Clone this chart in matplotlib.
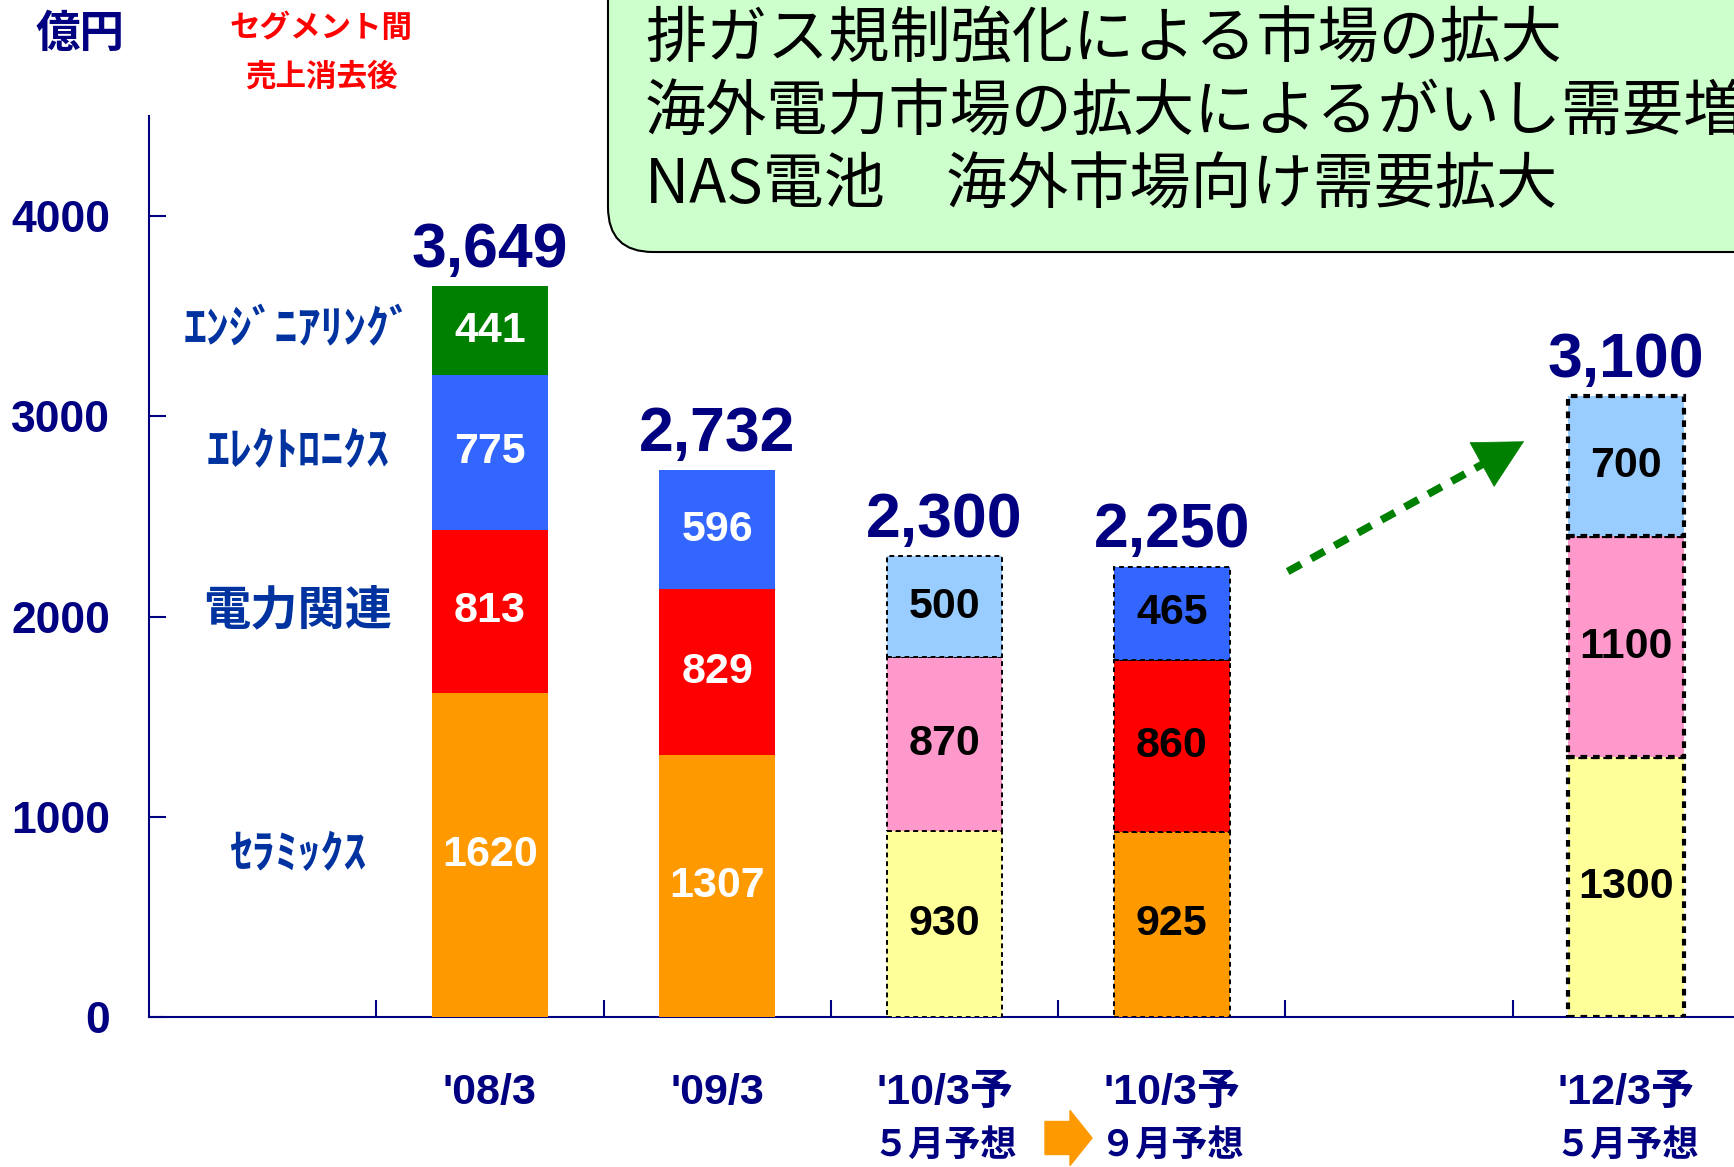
import numpy as np
import matplotlib
matplotlib.use('Agg')
import matplotlib.pyplot as plt
from matplotlib.patches import FancyBboxPatch, FancyArrow
from matplotlib.transforms import IdentityTransform

plt.rcParams['font.family'] = ['Liberation Sans', 'Noto Sans CJK JP']
JP = ['Noto Sans CJK JP', 'Liberation Sans']

# Chart data (億円)
periods = ["'08/3", "'09/3", "'10/3予", "'10/3予", "'12/3予"]
period_notes = ["", "", "５月予想", "９月予想", "５月予想"]
segments = ["ｾﾗﾐｯｸｽ", "電力関連", "ｴﾚｸﾄﾛﾆｸｽ", "ｴﾝｼﾞﾆｱﾘﾝｸﾞ"]
ceramics = [1620, 1307, 930, 925, 1300]
power = [813, 829, 870, 860, 1100]
electronics = [775, 596, 500, 465, 700]
engineering = [441, 0, 0, 0, 0]
totals = [3649, 2732, 2300, 2250, 3100]
yticks = [0, 1000, 2000, 3000, 4000]
notes = ["排ガス規制強化による市場の拡大",
         "海外電力市場の拡大によるがいし需要増",
         "NAS電池　海外市場向け需要拡大"]

# Styling
NAVY = '#000080'
SEGBLUE = '#0033A0'
solid_colors = ['#FF9900', '#FF0000', '#3366FF', '#008000']
light_colors = ['#FFFF99', '#FF99CC', '#99CCFF', '#008000']
slots = [1, 2, 3, 4, 6]
fill_kind = ['solid', 'solid', 'light', 'solid', 'light']
edge_kind = [None, None, 'thin', 'thin', 'thick']
text_color = ['white', 'white', 'black', 'black', 'black']

W, H = 1734, 1167
fig = plt.figure(figsize=(W / 100, H / 100), dpi=100, facecolor='white')
ax = fig.add_axes([149 / W, 150 / H, (1740 - 149) / W, 901 / H])

stack = [ceramics, power, electronics, engineering]
for i, x in enumerate(slots):
    bottom = 0
    for s, vals in enumerate(stack):
        v = vals[i]
        if v <= 0:
            continue
        col = solid_colors[s] if fill_kind[i] == 'solid' else light_colors[s]
        kw = dict(edgecolor='none', linewidth=0)
        if edge_kind[i] == 'thin':
            kw = dict(edgecolor='black', linewidth=1.4, linestyle=(0, (2.5, 2)))
        elif edge_kind[i] == 'thick':
            kw = dict(edgecolor='black', linewidth=3, linestyle=(0, (1.6, 1.4)))
        ax.bar(x, v, width=0.51, bottom=bottom, color=col, zorder=3, **kw)
        ax.text(x, bottom + v / 2, str(v), ha='center', va='center',
                fontsize=31, fontweight='bold', color=text_color[i], zorder=4)
        bottom += v
    ax.annotate(f'{totals[i]:,}', xy=(x, totals[i]), xytext=(0, 14),
                textcoords='offset points', ha='center', va='baseline',
                fontsize=45, fontweight='bold', color=NAVY)
    ax.text(x, -0.084, periods[i], transform=ax.get_xaxis_transform(),
            ha='center', va='center', fontsize=31, fontweight='bold', color=NAVY)
    if period_notes[i]:
        ax.text(x, -0.142, period_notes[i], transform=ax.get_xaxis_transform(),
                ha='center', va='center', fontsize=26, fontweight='bold',
                color=NAVY, family=JP)

# segment names beside the first bar
bottom = 0
for s, vals in enumerate(stack):
    ax.text(0.155, bottom + vals[0] / 2, segments[s], ha='center', va='center',
            fontsize=34 if s == 1 else 33, fontweight='bold', color=SEGBLUE,
            family=JP)
    bottom += vals[0]

# growth arrow: dotted shaft + solid head
tail = np.array([4.51, 2225])
tip = np.array([5.55, 2875])
shaft_end = tail + 0.84 * (tip - tail)
head_base = tail + 0.80 * (tip - tail)
ax.plot([tail[0], shaft_end[0]], [tail[1], shaft_end[1]], color='#008000',
        lw=5.5, dashes=(2.0, 1.5), solid_capstyle='butt', dash_capstyle='butt')
ax.annotate('', xy=tuple(tip), xytext=tuple(head_base),
            arrowprops=dict(arrowstyle='-|>,head_length=0.85,head_width=0.45',
                            color='#008000', lw=0.5, mutation_scale=40,
                            shrinkA=0, shrinkB=0))

ax.set_xlim(-0.5, 6.5)
ax.set_ylim(0, 4500)
ax.set_xticks(np.arange(0.5, 7, 1))
ax.set_xticklabels([])
ax.set_yticks(yticks)
ax.set_yticklabels([str(t) for t in yticks])
ax.tick_params(axis='x', direction='in', length=12, width=1.5, color=NAVY)
ax.tick_params(axis='y', direction='in', length=12, width=1.5, color=NAVY,
               labelsize=32, labelcolor=NAVY, pad=28)
for lab in ax.get_yticklabels():
    lab.set_fontweight('bold')
for side in ['top', 'right']:
    ax.spines[side].set_visible(False)
for side in ['left', 'bottom']:
    ax.spines[side].set_color(NAVY)
    ax.spines[side].set_linewidth(1.5)

# header texts
fig.text(80 / W, 1 - 34 / H, '億円', ha='center', va='center', fontsize=32,
         fontweight='bold', color=NAVY, family=JP)
fig.text(321 / W, 1 - 28 / H, 'セグメント間', ha='center', va='center',
         fontsize=22, fontweight='bold', color='#FF0000', family=JP)
fig.text(321 / W, 1 - 77 / H, '売上消去後', ha='center', va='center',
         fontsize=22, fontweight='bold', color='#FF0000', family=JP)

# note box (pixel coordinates)
box = FancyBboxPatch((608, H - 252), 1300, 400,
                     boxstyle='round,pad=0,rounding_size=45',
                     transform=IdentityTransform(), facecolor='#CCFFCC',
                     edgecolor='black', linewidth=1.5)
fig.add_artist(box)
for k, line in enumerate(notes):
    fig.text(645 / W, 1 - (40 + 73 * k) / H, line, ha='left', va='center',
             fontsize=44, color='black', family=JP)

# orange arrow between forecasts
arrow = FancyArrow(1045, H - 1138, 25, 0, width=33, head_width=55,
                   head_length=22, length_includes_head=False,
                   transform=IdentityTransform(), color='#FF9900')
fig.add_artist(arrow)

fig.savefig('out.png', dpi=100, facecolor='white')
